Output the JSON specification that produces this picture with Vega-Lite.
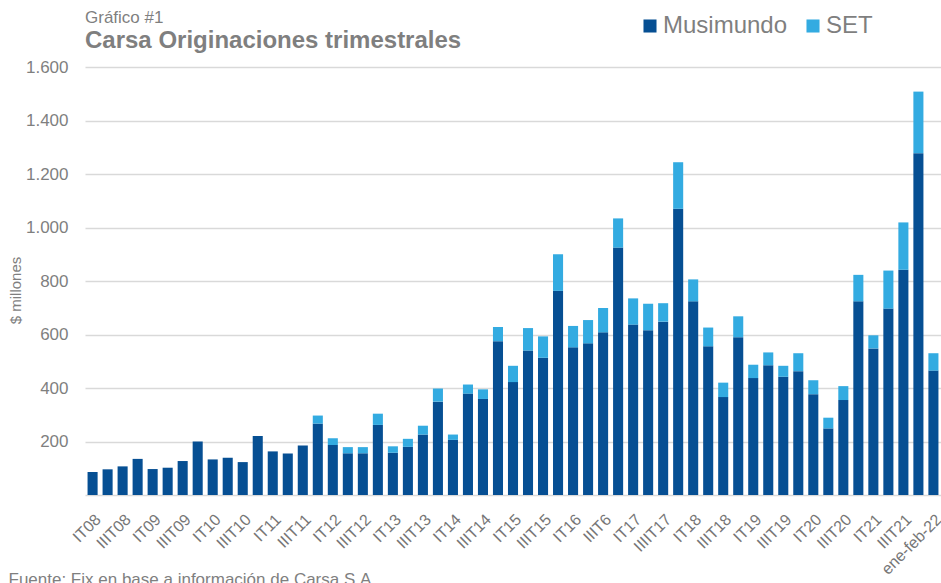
{
  "$schema": "https://vega.github.io/schema/vega-lite/v6.json",
  "width": 856,
  "height": 428,
  "autosize": {"type": "none"},
  "padding": {"left": 85, "top": 67, "right": 0, "bottom": 88},
  "background": "white",
  "config": {"font": "Liberation Sans", "view": {"stroke": null}},
  "title": {
    "text": "Gráfico #1",
    "subtitle": "Carsa Originaciones trimestrales",
    "anchor": "start",
    "frame": "group",
    "fontSize": 17,
    "fontWeight": "normal",
    "color": "#7f7f7f",
    "subtitleFontSize": 24,
    "subtitleFontWeight": "bold",
    "subtitleColor": "#7f7f7f",
    "subtitlePadding": 2,
    "offset": 0,
    "dy": 40
  },
  "data": {
    "values": [
      {"q": "IT08", "serie": "Musimundo", "v": 86}, {"q": "IT08", "serie": "SET", "v": 0},
      {"q": "IIT08", "serie": "Musimundo", "v": 96}, {"q": "IIT08", "serie": "SET", "v": 0},
      {"q": "IIIT08", "serie": "Musimundo", "v": 107}, {"q": "IIIT08", "serie": "SET", "v": 0},
      {"q": "IVT08", "serie": "Musimundo", "v": 135}, {"q": "IVT08", "serie": "SET", "v": 0},
      {"q": "IT09", "serie": "Musimundo", "v": 97}, {"q": "IT09", "serie": "SET", "v": 0},
      {"q": "IIT09", "serie": "Musimundo", "v": 102}, {"q": "IIT09", "serie": "SET", "v": 0},
      {"q": "IIIT09", "serie": "Musimundo", "v": 127}, {"q": "IIIT09", "serie": "SET", "v": 0},
      {"q": "IVT09", "serie": "Musimundo", "v": 200}, {"q": "IVT09", "serie": "SET", "v": 0},
      {"q": "IT10", "serie": "Musimundo", "v": 133}, {"q": "IT10", "serie": "SET", "v": 0},
      {"q": "IIT10", "serie": "Musimundo", "v": 139}, {"q": "IIT10", "serie": "SET", "v": 0},
      {"q": "IIIT10", "serie": "Musimundo", "v": 123}, {"q": "IIIT10", "serie": "SET", "v": 0},
      {"q": "IVT10", "serie": "Musimundo", "v": 221}, {"q": "IVT10", "serie": "SET", "v": 0},
      {"q": "IT11", "serie": "Musimundo", "v": 163}, {"q": "IT11", "serie": "SET", "v": 0},
      {"q": "IIT11", "serie": "Musimundo", "v": 155}, {"q": "IIT11", "serie": "SET", "v": 0},
      {"q": "IIIT11", "serie": "Musimundo", "v": 185}, {"q": "IIIT11", "serie": "SET", "v": 0},
      {"q": "IVT11", "serie": "Musimundo", "v": 267}, {"q": "IVT11", "serie": "SET", "v": 30},
      {"q": "IT12", "serie": "Musimundo", "v": 187}, {"q": "IT12", "serie": "SET", "v": 25},
      {"q": "IIT12", "serie": "Musimundo", "v": 156}, {"q": "IIT12", "serie": "SET", "v": 23},
      {"q": "IIIT12", "serie": "Musimundo", "v": 156}, {"q": "IIIT12", "serie": "SET", "v": 23},
      {"q": "IVT12", "serie": "Musimundo", "v": 262}, {"q": "IVT12", "serie": "SET", "v": 42},
      {"q": "IT13", "serie": "Musimundo", "v": 158}, {"q": "IT13", "serie": "SET", "v": 24},
      {"q": "IIT13", "serie": "Musimundo", "v": 180}, {"q": "IIT13", "serie": "SET", "v": 30},
      {"q": "IIIT13", "serie": "Musimundo", "v": 226}, {"q": "IIIT13", "serie": "SET", "v": 33},
      {"q": "IVT13", "serie": "Musimundo", "v": 349}, {"q": "IVT13", "serie": "SET", "v": 49},
      {"q": "IT14", "serie": "Musimundo", "v": 206}, {"q": "IT14", "serie": "SET", "v": 20},
      {"q": "IIT14", "serie": "Musimundo", "v": 379}, {"q": "IIT14", "serie": "SET", "v": 34},
      {"q": "IIIT14", "serie": "Musimundo", "v": 359}, {"q": "IIIT14", "serie": "SET", "v": 36},
      {"q": "IVT14", "serie": "Musimundo", "v": 575}, {"q": "IVT14", "serie": "SET", "v": 53},
      {"q": "IT15", "serie": "Musimundo", "v": 422}, {"q": "IT15", "serie": "SET", "v": 61},
      {"q": "IIT15", "serie": "Musimundo", "v": 540}, {"q": "IIT15", "serie": "SET", "v": 84},
      {"q": "IIIT15", "serie": "Musimundo", "v": 513}, {"q": "IIIT15", "serie": "SET", "v": 80},
      {"q": "IVT15", "serie": "Musimundo", "v": 763}, {"q": "IVT15", "serie": "SET", "v": 137},
      {"q": "IT16", "serie": "Musimundo", "v": 552}, {"q": "IT16", "serie": "SET", "v": 80},
      {"q": "IIT16", "serie": "Musimundo", "v": 567}, {"q": "IIT16", "serie": "SET", "v": 87},
      {"q": "IIIT6", "serie": "Musimundo", "v": 608}, {"q": "IIIT6", "serie": "SET", "v": 91},
      {"q": "IVT16", "serie": "Musimundo", "v": 925}, {"q": "IVT16", "serie": "SET", "v": 109},
      {"q": "IT17", "serie": "Musimundo", "v": 637}, {"q": "IT17", "serie": "SET", "v": 98},
      {"q": "IIT17", "serie": "Musimundo", "v": 616}, {"q": "IIT17", "serie": "SET", "v": 99},
      {"q": "IIIIT17", "serie": "Musimundo", "v": 648}, {"q": "IIIIT17", "serie": "SET", "v": 69},
      {"q": "IVT17", "serie": "Musimundo", "v": 1070}, {"q": "IVT17", "serie": "SET", "v": 174},
      {"q": "IT18", "serie": "Musimundo", "v": 724}, {"q": "IT18", "serie": "SET", "v": 82},
      {"q": "IIT18", "serie": "Musimundo", "v": 556}, {"q": "IIT18", "serie": "SET", "v": 70},
      {"q": "IIIT18", "serie": "Musimundo", "v": 366}, {"q": "IIIT18", "serie": "SET", "v": 54},
      {"q": "IVT18", "serie": "Musimundo", "v": 590}, {"q": "IVT18", "serie": "SET", "v": 78},
      {"q": "IT19", "serie": "Musimundo", "v": 437}, {"q": "IT19", "serie": "SET", "v": 50},
      {"q": "IIT19", "serie": "Musimundo", "v": 485}, {"q": "IIT19", "serie": "SET", "v": 48},
      {"q": "IIIT19", "serie": "Musimundo", "v": 442}, {"q": "IIIT19", "serie": "SET", "v": 41},
      {"q": "IVT19", "serie": "Musimundo", "v": 463}, {"q": "IVT19", "serie": "SET", "v": 67},
      {"q": "IT20", "serie": "Musimundo", "v": 377}, {"q": "IT20", "serie": "SET", "v": 52},
      {"q": "IIT20", "serie": "Musimundo", "v": 249}, {"q": "IIT20", "serie": "SET", "v": 40},
      {"q": "IIIT20", "serie": "Musimundo", "v": 355}, {"q": "IIIT20", "serie": "SET", "v": 52},
      {"q": "IVT20", "serie": "Musimundo", "v": 724}, {"q": "IVT20", "serie": "SET", "v": 99},
      {"q": "IT21", "serie": "Musimundo", "v": 548}, {"q": "IT21", "serie": "SET", "v": 49},
      {"q": "IIT21", "serie": "Musimundo", "v": 697}, {"q": "IIT21", "serie": "SET", "v": 142},
      {"q": "IIIT21", "serie": "Musimundo", "v": 842}, {"q": "IIIT21", "serie": "SET", "v": 177},
      {"q": "IVT21", "serie": "Musimundo", "v": 1278}, {"q": "IVT21", "serie": "SET", "v": 230},
      {"q": "ene-feb-22", "serie": "Musimundo", "v": 465}, {"q": "ene-feb-22", "serie": "SET", "v": 65}
    ]
  },
  "mark": {"type": "bar"},
  "encoding": {
    "x": {
      "field": "q",
      "type": "ordinal",
      "sort": null,
      "scale": {"paddingInner": 0.33, "paddingOuter": 0.17},
      "axis": {
        "values": ["IT08", "IIIT08", "IT09", "IIIT09", "IT10", "IIIT10", "IT11", "IIIT11", "IT12", "IIIT12", "IT13", "IIIT13", "IT14", "IIIT14", "IT15", "IIIT15", "IT16", "IIIT6", "IT17", "IIIIT17", "IT18", "IIIT18", "IT19", "IIIT19", "IT20", "IIIT20", "IT21", "IIIT21", "ene-feb-22"],
        "labelAngle": -45,
        "labelFontSize": 16,
        "labelColor": "#767676",
        "labelPadding": 16,
        "labelOverlap": false,
        "labelBound": false,
        "ticks": false,
        "domain": false,
        "title": "Fuente: Fix en base a información de Carsa S.A.",
        "titleX": -77,
        "titleY": 89,
        "titleAlign": "left",
        "titleAnchor": "start",
        "titleBaseline": "alphabetic",
        "titleFontSize": 17,
        "titleFontWeight": "normal",
        "titleColor": "#7f7f7f"
      }
    },
    "y": {
      "field": "v",
      "type": "quantitative",
      "stack": "zero",
      "scale": {"domain": [0, 1600]},
      "axis": {
        "values": [0, 200, 400, 600, 800, 1000, 1200, 1400, 1600],
        "labelExpr": "datum.value == 0 ? '' : replace(format(datum.value, ','), ',', '.')",
        "labelFontSize": 17,
        "labelColor": "#7f7f7f",
        "labelPadding": 17,
        "ticks": false,
        "domain": false,
        "grid": true,
        "gridColor": "#d9d9d9",
        "gridWidth": 1.5,
        "title": "$ millones",
        "titleX": -70,
        "titleY": 223,
        "titleAlign": "center",
        "titleBaseline": "middle",
        "titleFontSize": 15,
        "titleFontWeight": "normal",
        "titleColor": "#7f7f7f"
      }
    },
    "color": {
      "field": "serie",
      "type": "nominal",
      "scale": {"domain": ["Musimundo", "SET"], "range": ["#064f93", "#33abe1"]},
      "legend": {
        "title": null,
        "orient": "none",
        "direction": "horizontal",
        "legendX": 553,
        "legendY": -53,
        "symbolType": "square",
        "symbolSize": 170,
        "symbolStrokeWidth": 0,
        "labelFontSize": 24,
        "labelColor": "#7f7f7f",
        "labelOffset": 1,
        "columnPadding": 13
      }
    },
    "order": {"field": "serie", "sort": "ascending"}
  }
}
